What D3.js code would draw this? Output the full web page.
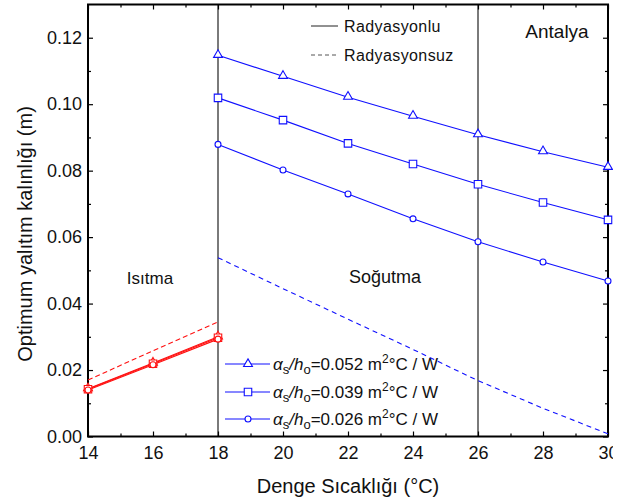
<!DOCTYPE html>
<html><head><meta charset="utf-8">
<script src="https://cdn.jsdelivr.net/npm/d3@7"></script>
<style>
body{margin:0;background:#fff}
svg{display:block}
text{font-family:"Liberation Sans",Arial,sans-serif;fill:#111}
</style></head><body>
<svg id="c" width="613" height="500"></svg>
<script>
// ---- data ----
const xHeat = [14, 16, 18];
const xCool = [18, 20, 22, 24, 26, 28, 30];
const heat052 = [0.0144, 0.0221, 0.0300];
const heat039 = [0.0142, 0.0219, 0.0297];
const heat026 = [0.0140, 0.0216, 0.0293];
const heatNoRad = [0.0170, 0.0258, 0.0345];
const cool052 = [0.1147, 0.1084, 0.1021, 0.0964, 0.0908, 0.0857, 0.0810];
const cool039 = [0.1019, 0.0952, 0.0882, 0.0820, 0.0759, 0.0704, 0.0652];
const cool026 = [0.0879, 0.0802, 0.0730, 0.0655, 0.0586, 0.0525, 0.0468];
const coolNoRad = [0.0538, 0.0445, 0.0353, 0.0262, 0.0168, 0.0085, 0.0008];
const seriesNames = ["0.052", "0.039", "0.026"];
const seriesSymbols = ["triangle", "square", "circle"];
const xTicks = [14, 16, 18, 20, 22, 24, 26, 28, 30];
const xMinor = [15, 17, 19, 21, 23, 25, 27, 29];
const yTicks = [0, 0.02, 0.04, 0.06, 0.08, 0.10, 0.12];
const yMinor = [0.01, 0.03, 0.05, 0.07, 0.09, 0.11];
const boundaries = [18, 26];

// ---- layout ----
const svg = d3.select("#c");
const L = 88, R = 608, T = 4.5, B = 436.5;
const x = d3.scaleLinear().domain([14, 30]).range([L, R]);
const y = d3.scaleLinear().domain([0, 0.13]).range([B, T]);
const BLUE = "#1010ff", RED = "#ff1010";

// boundary lines
svg.selectAll(".bnd").data(boundaries).enter().append("line")
  .attr("x1", d => x(d)).attr("x2", d => x(d)).attr("y1", T).attr("y2", B)
  .attr("stroke", "#7a7a7a").attr("stroke-width", 2);

// axes
function styleAxis(g){ g.select(".domain").remove(); g.selectAll("line").attr("stroke","#000").attr("stroke-width",1.2); g.selectAll("text").attr("font-size",18).attr("fill","#111").attr("font-family","Liberation Sans, Arial, sans-serif"); }
svg.append("g").attr("transform",`translate(0,${B})`)
  .call(d3.axisBottom(x).tickValues(xTicks).tickSize(-5).tickPadding(10).tickFormat(d3.format("d"))).call(styleAxis);
svg.append("g").attr("transform",`translate(0,${B})`)
  .call(d3.axisBottom(x).tickValues(xMinor).tickSize(-3).tickFormat("")).call(styleAxis);
svg.append("g").attr("transform",`translate(0,${T})`)
  .call(d3.axisTop(x).tickValues(xTicks).tickSize(-5).tickFormat("")).call(styleAxis);
svg.append("g").attr("transform",`translate(0,${T})`)
  .call(d3.axisTop(x).tickValues(xMinor).tickSize(-3).tickFormat("")).call(styleAxis);
svg.append("g").attr("transform",`translate(${L},0)`)
  .call(d3.axisLeft(y).tickValues(yTicks).tickSize(-5).tickPadding(6).tickFormat(d3.format(".2f"))).call(styleAxis);
svg.append("g").attr("transform",`translate(${L},0)`)
  .call(d3.axisLeft(y).tickValues(yMinor).tickSize(-3).tickFormat("")).call(styleAxis);
svg.append("g").attr("transform",`translate(${R},0)`)
  .call(d3.axisRight(y).tickValues(yTicks).tickSize(-5).tickFormat("")).call(styleAxis);
svg.append("g").attr("transform",`translate(${R},0)`)
  .call(d3.axisRight(y).tickValues(yMinor).tickSize(-3).tickFormat("")).call(styleAxis);

// frame
svg.append("rect").attr("x", L).attr("y", T).attr("width", R - L).attr("height", B - T)
  .attr("fill", "none").attr("stroke", "#000").attr("stroke-width", 2);

// lines
const line = d3.line().x(d => x(d[0])).y(d => y(d[1]));
function drawLine(xs, ys, color, dash){
  svg.append("path").datum(xs.map((v,i)=>[v, ys[i]])).attr("d", line)
    .attr("fill","none").attr("stroke",color).attr("stroke-width",1.1)
    .attr("stroke-dasharray", dash || null);
}
const symType = {triangle: d3.symbolTriangle, square: d3.symbolSquare, circle: d3.symbolCircle};
const symSize = {triangle: 34, square: 56, circle: 28};
function drawMarkers(xs, ys, color, sym){
  svg.selectAll(null).data(xs.map((v,i)=>[v, ys[i]])).enter().append("path")
    .attr("d", d3.symbol().type(symType[sym]).size(symSize[sym]))
    .attr("transform", d => `translate(${x(d[0])},${y(d[1]) + (sym==="triangle"?-0.5:0)})`)
    .attr("fill","#fff").attr("stroke",color).attr("stroke-width",1.1);
}
const heatSets = [heat052, heat039, heat026];
const coolSets = [cool052, cool039, cool026];
drawLine(xHeat, heatNoRad, RED, "5,3");
drawLine(xCool, coolNoRad, BLUE, "5,4");
heatSets.forEach((s,i)=> drawLine(xHeat, s, RED));
coolSets.forEach((s,i)=> drawLine(xCool, s, BLUE));
heatSets.forEach((s,i)=> drawMarkers(xHeat, s, RED, seriesSymbols[i]));
coolSets.forEach((s,i)=> drawMarkers(xCool, s, BLUE, seriesSymbols[i]));

// region labels
svg.append("text").attr("x", 150).attr("y", 278).attr("dy","0.35em").attr("text-anchor","middle").attr("font-size",17).text("Isıtma");
svg.append("text").attr("x", 385).attr("y", 277).attr("dy","0.35em").attr("text-anchor","middle").attr("font-size",18).text("Soğutma");
svg.append("text").attr("x", 557).attr("y", 31).attr("dy","0.35em").attr("text-anchor","middle").attr("font-size",19).text("Antalya");

// top legend
svg.append("line").attr("x1",311).attr("x2",338).attr("y1",26).attr("y2",26).attr("stroke","#222").attr("stroke-width",1);
svg.append("text").attr("x",344).attr("y",26).attr("dy","0.35em").attr("font-size",16).attr("letter-spacing","0.4").text("Radyasyonlu");
svg.append("line").attr("x1",311).attr("x2",338).attr("y1",55).attr("y2",55).attr("stroke","#555").attr("stroke-width",1).attr("stroke-dasharray","4,3");
svg.append("text").attr("x",344).attr("y",55).attr("dy","0.35em").attr("font-size",16).attr("letter-spacing","0.4").text("Radyasyonsuz");

// bottom legend
const legY = [364, 392, 419];
seriesNames.forEach((nm, i) => {
  const yy = legY[i];
  svg.append("line").attr("x1",225).attr("x2",270).attr("y1",yy).attr("y2",yy).attr("stroke",BLUE).attr("stroke-width",1.1);
  svg.append("path").attr("d", d3.symbol().type(symType[seriesSymbols[i]]).size(symSize[seriesSymbols[i]]))
    .attr("transform",`translate(248,${yy})`).attr("fill","#fff").attr("stroke",BLUE).attr("stroke-width",1.1);
  const t = svg.append("text").attr("x",273).attr("y",yy+6).attr("font-size",17);
  t.append("tspan").attr("font-style","italic").text("α");
  t.append("tspan").attr("font-size",13).attr("dy",4).text("s");
  t.append("tspan").attr("dy",-4).attr("font-style","italic").text("/h");
  t.append("tspan").attr("font-size",13).attr("dy",4).text("o");
  t.append("tspan").attr("dy",-4).text("=" + nm + " m");
  t.append("tspan").attr("font-size",12).attr("dy",-7).text("2");
  t.append("tspan").attr("dy",7).text("°C / W");
});

// axis titles
svg.append("text").attr("x", 348).attr("y", 493).attr("text-anchor","middle").attr("font-size",20).text("Denge Sıcaklığı (°C)");
svg.append("text").attr("transform","translate(32,234) rotate(-90)").attr("text-anchor","middle").attr("font-size",20).text("Optimum yalıtım kalınlığı (m)");
</script>
</body></html>
